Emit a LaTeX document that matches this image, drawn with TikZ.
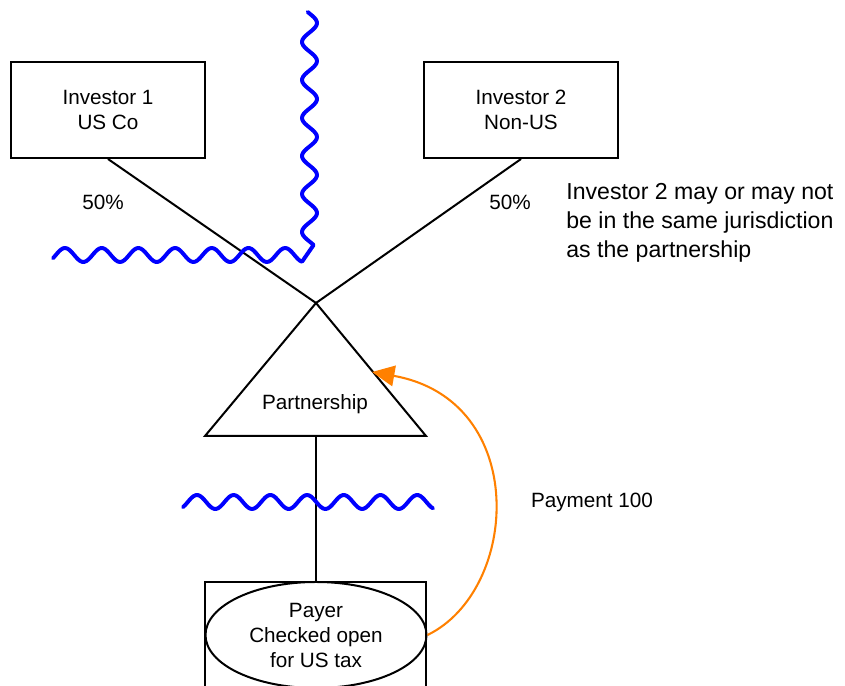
\documentclass[tikz,border=0pt]{standalone}
\usepackage{fontspec}
\setmainfont{Liberation Sans}
\usetikzlibrary{shapes.geometric,arrows.meta}
\definecolor{naranja}{RGB}{255,128,0}
\definecolor{azul}{RGB}{0,0,255}

\begin{document}
\begin{tikzpicture}[x=0.58pt, y=-0.58pt,
    caja/.style={draw, line width=1.16pt, inner sep=0pt, minimum width=112.5pt,
        minimum height=55.7pt, align=center, font=\fontsize{12}{14.5}\selectfont},
    linea/.style={line width=1.16pt},
    onda/.style={azul, line width=2.3pt, line join=round, line cap=round},
    texto/.style={font=\fontsize{12}{14.5}\selectfont, align=center},
    pago/.style={naranja, line width=1.2pt, -{Triangle[length=13pt, width=12pt]}}]

    % Marco de la figura
    \useasboundingbox (0,0) rectangle (845,686);

    % Inversores
    \node[caja] (inv1) at (108,110) {Investor 1\\US Co};
    \node[caja] (inv2) at (521,110) {Investor 2\\Non-US};

    % Sociedad (triangulo)
    \coordinate (vertice) at (316,303);
    \coordinate (izq) at (205,436);
    \coordinate (der) at (426,436);
    \coordinate (base) at (316,436);
    \draw[linea] (vertice) -- (izq) -- (der) -- cycle;
    \node[texto] (socio) at (315,404) {Partnership};

    % Pagador
    \draw[linea] (205,700) |- (426,582) -- (426,700);
    \coordinate (techo) at (316,582);
    \node[draw, ellipse, linea, inner sep=0pt, minimum width=128.2pt,
        minimum height=61.5pt, texto] (pagador) at (316,635)
        {Payer\\Checked open\\for US tax};

    % Participaciones
    \draw[linea] (inv1.south) -- (vertice);
    \draw[linea] (inv2.south) -- (vertice);
    \draw[linea] (base) -- (techo);

    % Porcentajes y notas
    \node[texto] (pct1) at (103,202) {50\%};
    \node[texto] (pct2) at (510,202) {50\%};
    \node[anchor=west, align=left, inner sep=0pt, font=\fontsize{13.4}{16.8}\selectfont] (nota) at (566,223)
        {Investor 2 may or may not\\be in the same jurisdiction\\as the partnership};
    \node[texto] (monto) at (592,502) {Payment 100};

% Fronteras (lineas onduladas)
\draw[onda] plot[domain=12:245, samples=120, variable=\t] ({309.5+7.5*sin(9.4737*(\t-13.5))}, \t)
    -- plot[domain=302:53, samples=120] (\x, {255-7*sin(9.809*(\x-55.8))});
\draw[onda] plot[domain=183:433, samples=120] (\x, {502-7*sin(9.809*(\x-187.8))});

% Flecha del pago
\coordinate (punta) at (372,372);
\draw[pago] (pagador.east) .. controls (520,590) and (530,400) .. (punta);

\end{tikzpicture}
\end{document}
